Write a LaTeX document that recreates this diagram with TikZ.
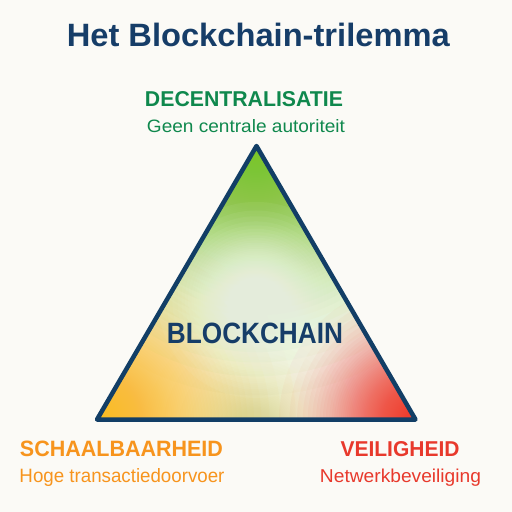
\documentclass[tikz,border=0pt]{standalone}
\usepackage{fontspec}
\setmainfont{Liberation Sans}
\definecolor{bg}{HTML}{FBFAF6}
\definecolor{navy}{HTML}{163D68}
\definecolor{edge}{HTML}{123E66}
\definecolor{tgreen}{HTML}{0F884D}
\definecolor{torange}{HTML}{F7941D}
\definecolor{tred}{HTML}{E8392C}
\definecolor{fgreen}{HTML}{7CC52A}
\definecolor{fyellow}{HTML}{F9BC22}
\definecolor{fred}{HTML}{EE3F2F}
\definecolor{fmid}{HTML}{D8DC8A}
\definecolor{fglow}{HTML}{F4FCEB}
\newcommand\myglow[5]{% center, colour, radius, steps, opacity
  \foreach \k in {1,...,#4}{%
    \fill[#2, fill opacity=#5] (#1) circle ({#3*(1-(\k/#4)^0.345)});}}
\tikzset{
  lbl/.style={anchor=base, inner sep=0pt, outer sep=0pt},
}
\begin{document}
\begin{tikzpicture}[x=1pt,y=-1pt]
\fill[bg] (0,0) rectangle (512,512);
\useasboundingbox (0,0) rectangle (512,512);
\coordinate (A) at (256.5,146);
\coordinate (B) at (97,419.5);
\coordinate (C) at (415.5,419.5);
\coordinate (M) at (256,300);
\coordinate (D) at (256,430);
\begin{scope}
\clip (A) -- (B) -- (C) -- cycle;
\fill[white] (0,100) rectangle (512,440);
\myglow{A}{fgreen}{320}{80}{0.036}
\myglow{D}{fmid}{150}{50}{0.028}
\myglow{B}{fyellow}{255}{80}{0.036}
\myglow{C}{fred}{175}{80}{0.04}
\myglow{M}{fglow}{130}{60}{0.06}
\end{scope}
\draw[edge, line width=4.5pt, line join=round] (A) -- (B) -- (C) -- cycle;
\node[lbl, text=navy] (title) at (258.3,46.7) {\resizebox{383pt}{23.4pt}{\bfseries Het Blockchain-trilemma}};
\node[lbl, text=tgreen] (dec) at (244,106) {\resizebox{198pt}{15pt}{\bfseries DECENTRALISATIE}};
\node[lbl, text=tgreen] (decsub) at (246,132.3) {\resizebox{198pt}{13pt}{Geen centrale autoriteit}};
\node[lbl, text=torange] (sch) at (121.5,456.7) {\resizebox{203pt}{15.5pt}{\bfseries SCHAALBAARHEID}};
\node[lbl, text=torange] (schsub) at (122,482.7) {\resizebox{205pt}{14pt}{Hoge transactiedoorvoer}};
\node[lbl, text=tred] (vei) at (400,456.7) {\resizebox{119pt}{15pt}{\bfseries VEILIGHEID}};
\node[lbl, text=tred] (veisub) at (400.5,482.7) {\resizebox{161pt}{13.5pt}{Netwerkbeveiliging}};
\node[lbl, text=navy] (bc) at (255,343) {\resizebox{176pt}{20.5pt}{\bfseries BLOCKCHAIN}};
\end{tikzpicture}
\end{document}
